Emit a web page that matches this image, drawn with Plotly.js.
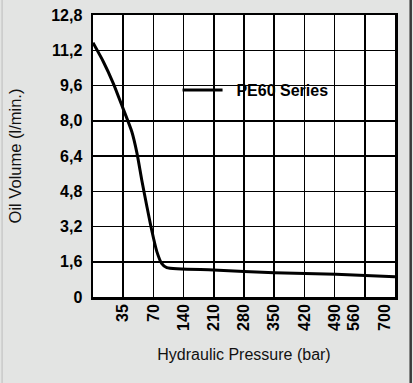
<!DOCTYPE html>
<html>
<head>
<meta charset="utf-8">
<script src="https://cdn.plot.ly/plotly-3.0.1.min.js"></script>
<style>
html,body{margin:0;padding:0;background:#e3e4e3;}
#chart{width:413px;height:383px;}
</style>
</head>
<body>
<div id="chart"></div>
<script>
// Curve (pressure in bar along the linear grid, oil volume in l/min)
var seriesName = "PE60 Series";
var pressure = [0, 24, 47, 68, 90, 102, 113, 125, 136, 148, 159, 171, 279, 420, 563, 700];
var oilVolume = [11.54, 10.68, 9.70, 8.64, 7.50, 6.52, 5.31, 4.10, 3.04, 2.06, 1.53, 1.33, 1.23, 1.10, 1.03, 0.92];

// Tick labels as printed on the original chart
var xTickText = ["35", "70", "140", "210", "280", "350", "420", "490", "560", "700"];
var xTickVals = [70, 140, 210, 280, 350, 420, 490, 560, 605, 677];
var yTickVals = [0, 1.6, 3.2, 4.8, 6.4, 8.0, 9.6, 11.2, 12.8];
var yTickText = ["0", "1,6", "3,2", "4,8", "6,4", "8,0", "9,6", "11,2", "12,8"];

var FONT = "'Liberation Sans', Arial, sans-serif";

var traces = [
  {
    x: pressure, y: oilVolume, name: "\u00a0\u00a0" + seriesName, type: "scatter", mode: "lines",
    line: {color: "#000", width: 3, shape: "spline", smoothing: 0.6},
    hoverinfo: "x+y"
  },
  {
    x: [0, 700], y: [0, 0], xaxis: "x2", yaxis: "y", type: "scatter", mode: "lines",
    line: {color: "rgba(0,0,0,0)", width: 0}, showlegend: false, hoverinfo: "skip"
  }
];

var layout = {
  width: 413, height: 383,
  margin: {l: 93, r: 18, t: 15, b: 86},
  paper_bgcolor: "#e3e4e3",
  plot_bgcolor: "#ffffff",
  showlegend: true,
  font: {family: FONT, color: "#000"},
  xaxis: {
    range: [0, 700], dtick: 70, tick0: 0, showticklabels: false, ticks: "",
    showgrid: true, gridcolor: "#000", gridwidth: 1.5, zeroline: false,
    showline: true, linecolor: "#000", linewidth: 2.5, mirror: true,
    fixedrange: true
  },
  xaxis2: {
    overlaying: "x", anchor: "y", side: "bottom", range: [0, 700],
    tickmode: "array", tickvals: xTickVals, ticktext: xTickText,
    tickangle: -90, ticks: "", showgrid: false, zeroline: false, showline: false,
    tickfont: {family: FONT, size: 16, color: "#000", weight: "bold"},
    ticklabelstandoff: 3,
    title: {text: "Hydraulic Pressure (bar)", font: {family: FONT, size: 16, color: "#111"}, standoff: 18},
    fixedrange: true
  },
  yaxis: {
    range: [0, 12.8], tickmode: "array", tickvals: yTickVals, ticktext: yTickText,
    ticks: "", showgrid: true, gridcolor: "#000", gridwidth: 1.5, zeroline: false,
    showline: true, linecolor: "#000", linewidth: 2.5, mirror: true,
    tickfont: {family: FONT, size: 16, color: "#000", weight: "bold"},
    ticklabelstandoff: 5,
    title: {text: "Oil Volume (l/min.)", font: {family: FONT, size: 16.5, color: "#111"}, standoff: 26},
    fixedrange: true
  },
  legend: {
    x: 0.28, y: 0.734, xanchor: "left", yanchor: "middle",
    bgcolor: "rgba(0,0,0,0)", borderwidth: 0, itemwidth: 40,
    font: {family: FONT, size: 16, color: "#000", weight: "bold"}
  },
  shapes: [
    {type: "rect", xref: "paper", yref: "paper", x0: 0.2417, x1: 0.967, y0: 0.645, y1: 0.830,
     fillcolor: "#ffffff", line: {width: 0}, layer: "between"},
    {type: "line", xref: "paper", yref: "paper", x0: 1.052, x1: 1.052, y0: -0.31, y1: 1.06,
     line: {color: "#3a3a3a", width: 2.5}},
    {type: "line", xref: "paper", yref: "paper", x0: -0.301, x1: -0.301, y0: -0.31, y1: 1.06,
     line: {color: "#c9c9c9", width: 1.5}}
  ]
};

Plotly.newPlot("chart", traces, layout, {displayModeBar: false, staticPlot: true});
</script>
</body>
</html>
